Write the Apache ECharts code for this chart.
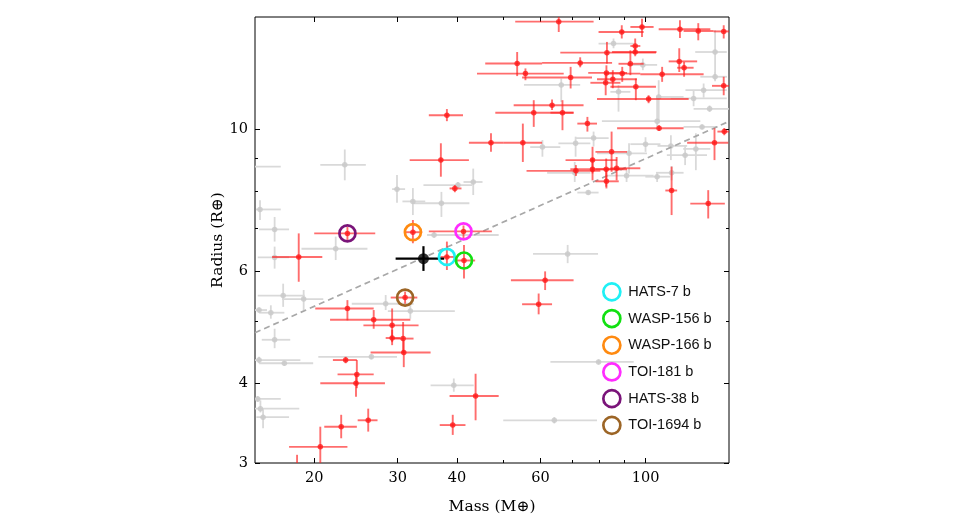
<!DOCTYPE html>
<html><head><meta charset="utf-8">
<script src="https://cdn.jsdelivr.net/npm/echarts@6/dist/echarts.min.js"></script>
<style>html,body{margin:0;padding:0;background:#fff}#c{width:960px;height:530px}</style>
</head><body><div id="c"></div>
<script>
// ---- tick values ----
const xMajorTicks = [20, 30, 40, 60, 100];
const xMinorTicks = [50, 70, 80, 90];
const yMajorTicks = [3, 4, 6, 10];
const yMinorTicks = [5, 7, 8, 9];

// ---- known planets (red, with error bars) ----
const redMass   = [38.1,37.0,39.6,23.5,32.3,41.3,18.55,38.1,41.4,31.1,23.5,26.7,29.2,29.2,30.8,30.9,23.3,24.6,24.5,22.8,26.0,20.6,18.4,39.2,43.8,61.4,59.5,65.6,89.1,98.3,118.2,129.2,146.2,82.9,95.1,95.1,53.6,72.8,55.8,69.5,92.9,89.3,82.7,82.4,85.3,95.4,108.4,117.8,120.6,101.5,146.2,58.1,63.5,66.8,75.4,106.8,47.2,55.1,84.8,77.3,71.3,77.3,82.6,86.9,82.7,139.8,146.6,113.5,135.6];
const redMassLo = [34.9,31.8,38.6,20.0,31.1,34.9,16.3,36.9,39.3,29.0,20.1,21.6,25.4,28.3,29.4,26.3,21.9,22.4,20.6,21.0,24.7,17.7,17.6,36.8,38.6,52.0,54.9,53.1,79.6,92.9,106.6,120.3,139.2,66.1,92.9,85.0,45.9,60.5,44.1,54.9,87.7,82.3,75.7,76.5,79.0,84.3,97.5,111.9,116.6,79.0,138.1,48.2,52.7,63.0,71.8,87.1,42.4,50.1,78.4,67.8,56.1,69.4,78.4,84.3,78.4,122.4,141.8,110.1,124.3];
const redMassHi = [41.2,42.4,40.9,26.9,33.8,47.4,20.8,39.6,43.7,33.0,26.7,31.9,33.2,30.4,32.4,35.2,24.6,26.7,28.2,24.6,27.2,23.5,19.3,41.7,49.0,70.5,63.5,77.7,99.1,104.0,137.0,139.2,155,105.2,97.5,105.5,60.5,85.0,67.2,77.1,99.1,97.5,91.4,88.5,95.9,105.2,132.6,128.5,126.3,123.3,153,70.5,74.0,70.5,79.0,120.3,50.1,60.5,91.4,87.1,80.3,91.4,88.5,97.5,87.8,149.5,155,116.6,147.0];
const redRadius   = [10.52,8.95,8.08,6.87,6.90,6.92,6.31,6.31,6.23,5.45,5.24,5.03,4.93,4.71,4.70,4.47,4.35,4.13,4.00,3.42,3.50,3.18,2.92,3.44,3.82,5.80,5.32,14.75,14.21,14.47,14.35,14.26,14.24,13.19,13.51,13.22,12.68,12.71,12.23,12.06,12.67,12.23,12.26,11.83,11.98,11.66,12.20,12.78,12.49,11.16,11.70,10.62,10.91,10.62,10.21,10.04,9.53,9.53,9.22,8.95,8.61,8.66,8.66,8.69,8.29,9.53,9.92,8.02,7.65];
const redRadiusLo = [10.30,8.43,7.97,6.71,6.63,6.75,5.77,6.02,5.84,5.33,5.02,4.87,4.64,4.59,4.46,4.24,4.30,3.93,3.81,3.28,3.36,2.96,2.80,3.32,3.50,5.60,5.13,14.21,13.88,13.96,13.90,13.79,13.88,12.68,13.14,13.02,12.12,12.51,11.94,11.59,12.16,11.87,11.94,11.31,11.60,11.11,11.87,12.30,12.09,10.99,11.31,10.09,10.72,9.97,9.92,9.95,9.22,8.89,8.58,8.53,8.45,8.32,8.13,8.32,8.08,8.95,9.79,7.34,7.25];
const redRadiusHi = [10.76,9.51,8.18,7.03,7.21,7.07,6.87,6.67,6.59,5.57,5.40,5.21,5.24,4.85,4.99,4.67,4.40,4.35,4.14,3.57,3.65,3.42,3.09,3.57,4.14,5.99,5.53,15.1,14.56,14.90,14.83,14.67,14.56,13.71,13.88,13.41,13.22,12.97,12.46,12.53,13.30,12.53,12.60,12.29,12.38,12.01,12.53,13.40,12.75,11.31,12.09,11.11,11.14,11.11,10.46,10.15,9.86,10.21,9.92,9.39,8.79,9.01,9.00,9.05,8.63,10.04,10.05,8.74,8.03];

// ---- other planets (grey) ----
const greyMass   = [23.2,15.37,14.8,16.5,29.9,32.3,37.1,43.3,40.2,35.8,22.2,16.5,17.2,19.0,16.2,15.3,16.5,15.3,17.3,28.3,31.9,26.4,39.4,15.2,15.4,15.6,68.5,79.6,64.2,85.6,98.7,66.4,87.7,106.6,105.8,132.6,136.5,140.2,131.6,77.7,71.2,60.6,92.3,100.0,113.1,121.2,127.7,113.5,105.8,91.2,75.7,70.9,126.3,140.2];
const greyMassLo = [20.6,15.07,13.5,15.3,29.2,30.7,32.4,41.3,34.0,34.6,18.8,15.2,15.2,17.1,15.3,15.0,15.5,14.5,15.3,24.0,28.6,20.4,35.2,14.5,15.0,15.1,57.9,63.0,50.1,79.6,91.4,55.4,84.3,105.2,80.9,121.4,126.3,127.3,120.3,71.1,65.5,57.1,79.0,92.9,106.0,110.9,120.1,105.2,99.9,82.9,71.8,62.0,113.0,130.5];
const greyMassHi = [25.7,17.0,17.0,17.7,31.1,34.3,42.5,45.3,43.1,49.0,25.9,17.7,19.1,20.9,17.3,15.9,17.8,18.7,19.9,32.4,39.6,29.9,43.4,17.0,18.6,17.7,79.4,94.4,79.0,94.4,105.8,72.8,92.9,120.3,130.5,148.4,149.9,148.4,142.1,83.6,76.5,66.1,100.7,107.5,122.4,134.8,137.0,120.3,112.8,104.0,79.6,76.5,148.4,148.5];
const greyRadius   = [8.80,7.49,8.74,6.97,8.06,7.71,7.66,8.27,8.18,6.83,6.50,6.30,5.49,5.42,5.16,5.21,4.68,4.35,4.30,5.33,5.19,4.40,3.97,3.78,3.65,3.54,6.38,4.32,3.50,13.63,12.62,11.74,11.45,11.24,10.30,11.52,10.77,13.22,10.09,9.69,9.51,9.38,9.17,9.48,9.42,9.11,9.32,8.55,8.43,8.46,7.96,8.55,11.18,12.09];
const greyRadiusLo = [8.32,7.21,8.60,6.67,7.67,7.34,7.29,7.89,8.09,6.76,6.24,6.05,5.27,5.21,5.05,5.16,4.54,4.30,4.26,5.21,5.05,4.36,3.88,3.74,3.60,3.40,6.17,4.28,3.46,13.40,12.38,11.04,10.66,10.22,10.09,11.21,10.65,11.94,10.00,9.40,9.06,9.06,8.53,9.22,8.95,8.79,8.63,8.32,8.27,8.27,7.90,8.27,10.87,11.90];
const greyRadiusHi = [9.30,7.74,8.90,7.29,8.48,8.09,7.98,8.68,8.27,6.90,6.79,6.55,5.73,5.60,5.30,5.26,4.87,4.40,4.34,5.50,5.33,4.44,4.07,3.82,3.76,3.66,6.59,4.36,3.54,13.88,12.91,12.01,11.73,11.94,11.24,11.80,10.90,14.30,10.18,9.92,9.74,9.62,9.51,9.72,9.79,9.45,9.86,8.76,8.57,8.63,8.02,8.89,11.52,12.30];

// ---- target (black) ----
const targetMass = [34.0], targetMassLo = [29.7], targetMassHi = [37.6];
const targetRadius = [6.27], targetRadiusLo = [6.00], targetRadiusHi = [6.56];

// ---- highlighted planets ----
const planetNames  = ['HATS-7 b', 'WASP-156 b', 'WASP-166 b', 'TOI-181 b', 'HATS-38 b', 'TOI-1694 b'];
const planetMass   = [38.1, 41.4, 32.3, 41.3, 23.5, 31.1];
const planetRadius = [6.31, 6.23, 6.90, 6.92, 6.87, 5.45];
const planetColors = ['#1ff0f5', '#12e012', '#ff8a10', '#ff2cff', '#7a1479', '#9c6526'];

// ---- trend line ----
const trendMass = [15, 150];
const trendRadius = [4.80, 10.29];

function zipErr(m, mlo, mhi, r, rlo, rhi) {
  return m.map((v, i) => [v, r[i], mlo[i], mhi[i], rlo[i], rhi[i]]);
}
function errRender(color, lw) {
  return function (params, api) {
    const x = api.value(0), y = api.value(1);
    const pl = api.coord([api.value(2), y]), ph = api.coord([api.value(3), y]);
    const pb = api.coord([x, api.value(4)]), pt = api.coord([x, api.value(5)]);
    return { type: 'group', children: [
      { type: 'line', shape: { x1: pl[0], y1: pl[1], x2: ph[0], y2: ph[1] }, style: { stroke: color, lineWidth: lw } },
      { type: 'line', shape: { x1: pb[0], y1: pb[1], x2: pt[0], y2: pt[1] }, style: { stroke: color, lineWidth: lw } }
    ]};
  };
}

const serif = 'DejaVu Serif';
function xAx(pos, ticks, len, withLabel) {
  const a = {
    type: 'log', logBase: 10, min: 15, max: 150, position: pos, gridIndex: 0,
    axisLine: { show: false }, splitLine: { show: false }, minorTick: { show: false },
    axisTick: { show: true, inside: true, length: len, customValues: ticks, lineStyle: { color: '#000', width: 1 } },
    axisLabel: withLabel ? { show: true, customValues: ticks, margin: 8, color: '#000', fontFamily: serif, fontSize: 14.5 } : { show: false }
  };
  if (withLabel) {
    a.name = 'Mass (M\u2295)'; a.nameLocation = 'middle'; a.nameGap = 36;
    a.nameTextStyle = { color: '#000', fontFamily: serif, fontSize: 15.5 };
  }
  return a;
}
function yAx(pos, ticks, len, withLabel) {
  const a = {
    type: 'log', logBase: 10, min: 3, max: 15, position: pos, gridIndex: 0,
    axisLine: { show: false }, splitLine: { show: false }, minorTick: { show: false },
    axisTick: { show: true, inside: true, length: len, customValues: ticks, lineStyle: { color: '#000', width: 1 } },
    axisLabel: withLabel ? { show: true, customValues: ticks, margin: 7, color: '#000', fontFamily: serif, fontSize: 14.5 } : { show: false }
  };
  if (withLabel) {
    a.name = 'Radius (R\u2295)'; a.nameLocation = 'middle'; a.nameGap = 29;
    a.nameTextStyle = { color: '#000', fontFamily: serif, fontSize: 15.5 };
  }
  return a;
}

const series = [
  { type: 'custom', name: 'greyErr', renderItem: errRender('#d9d9d9', 1.8), data: zipErr(greyMass, greyMassLo, greyMassHi, greyRadius, greyRadiusLo, greyRadiusHi), clip: true, silent: true, z: 1 },
  { type: 'scatter', name: 'grey', data: greyMass.map((v, i) => [v, greyRadius[i]]), symbolSize: 5.5, itemStyle: { color: '#c8c8c8' }, clip: true, silent: true, z: 2 },
  { type: 'line', name: 'trend', data: trendMass.map((v, i) => [v, trendRadius[i]]), symbol: 'none', lineStyle: { color: '#a8a8a8', width: 1.7, type: [6, 4] }, silent: true, z: 3 },
  { type: 'custom', name: 'redErr', renderItem: errRender('rgba(255,30,30,0.65)', 1.9), data: zipErr(redMass, redMassLo, redMassHi, redRadius, redRadiusLo, redRadiusHi), clip: true, silent: true, z: 4 },
  { type: 'scatter', name: 'red', data: redMass.map((v, i) => [v, redRadius[i]]), symbolSize: 5.5, itemStyle: { color: '#ff1a1a' }, clip: true, silent: true, z: 5 },
  { type: 'custom', name: 'targetErr', renderItem: errRender('#000', 2.2), data: zipErr(targetMass, targetMassLo, targetMassHi, targetRadius, targetRadiusLo, targetRadiusHi), clip: true, silent: true, z: 6 },
  { type: 'scatter', name: 'target', data: targetMass.map((v, i) => [v, targetRadius[i]]), symbolSize: 11, itemStyle: { color: '#000' }, silent: true, z: 7 }
];
planetNames.forEach((n, i) => {
  series.push({ type: 'scatter', name: n, data: [[planetMass[i], planetRadius[i]]], symbol: 'circle', symbolSize: 16,
    itemStyle: { color: 'rgba(255,255,255,0)', borderColor: planetColors[i], borderWidth: 2.7, opacity: 1 }, silent: true, z: 8 });
});

const chart = echarts.init(document.getElementById('c'), null, { renderer: 'canvas' });
chart.setOption({
  animation: false,
  backgroundColor: '#fff',
  grid: { left: 255, top: 17, width: 474, height: 446, show: true, borderColor: '#000', borderWidth: 1, backgroundColor: 'transparent' },
  xAxis: [xAx('bottom', xMajorTicks, 5, true), xAx('bottom', xMinorTicks, 3, false), xAx('top', xMajorTicks, 5, false), xAx('top', xMinorTicks, 3, false)],
  yAxis: [yAx('left', yMajorTicks, 5, true), yAx('left', yMinorTicks, 3, false), yAx('right', yMajorTicks, 5, false), yAx('right', yMinorTicks, 3, false)],
  legend: {
    data: planetNames.map((n) => ({ name: n, icon: 'circle' })),
    orient: 'vertical', left: 597, top: 277, itemWidth: 17, itemHeight: 17, itemGap: 7,
    itemStyle: { borderWidth: 2.7 },
    textStyle: { fontFamily: 'Liberation Sans', fontSize: 14.5, color: '#111', padding: [0, 0, 0, 3] },
    selectedMode: false
  },
  series: series
});
</script></body></html>
